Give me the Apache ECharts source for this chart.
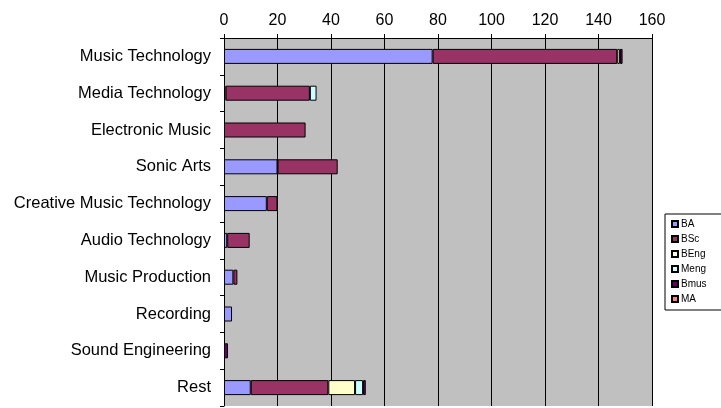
<!DOCTYPE html>
<html>
<head>
<meta charset="utf-8">
<script src="https://cdn.jsdelivr.net/npm/echarts@6/dist/echarts.min.js"></script>
<style>html,body{margin:0;padding:0;background:#fff;}#c{width:721px;height:408px;}</style>
</head>
<body>
<div id="c"></div>
<script>
const categories = ["Music Technology","Media Technology","Electronic Music","Sonic Arts","Creative Music Technology","Audio Technology","Music Production","Recording","Sound Engineering","Rest"];
const seriesNames = ["BA","BSc","BEng","Meng","Bmus","MA"];
const BA   = [78, 0.6, 0, 20, 16, 1.2, 3.5, 3, 0, 10];
const BSc  = [69, 31.5, 30.5, 22.5, 4, 8.4, 1.5, 0, 0, 29];
const BEng = [1, 0, 0, 0, 0, 0, 0, 0, 0, 10];
const Meng = [0, 2.5, 0, 0, 0, 0, 0, 0, 0, 3];
const Bmus = [1, 0, 0, 0, 0, 0, 0, 0, 1.5, 1];
const MA   = [0, 0, 0, 0, 0, 0, 0, 0, 0, 0];
const xTicks = [0, 20, 40, 60, 80, 100, 120, 140, 160];
const colors = ["#9999FF","#993366","#FFFFCC","#CCFFFF","#660066","#FF8080"];
const values = [BA, BSc, BEng, Meng, Bmus, MA];

const chart = echarts.init(document.getElementById('c'), null, {renderer:'canvas'});
const font = 'Liberation Sans, Arial, sans-serif';
chart.setOption({
  animation: false,
  grid: {left: 224, right: 69, top: 38, bottom: 2, show: true, backgroundColor: '#C0C0C0', borderWidth: 0},
  xAxis: {
    type: 'value', position: 'top', min: xTicks[0], max: xTicks[xTicks.length-1], interval: 20,
    axisLine: {show: true, lineStyle: {color: '#000', width: 1}},
    axisTick: {show: true, length: 4, lineStyle: {color: '#000'}},
    axisLabel: {color: '#000', fontFamily: font, fontSize: 16, margin: 9},
    splitLine: {show: true, lineStyle: {color: '#000', width: 1}}
  },
  yAxis: {
    type: 'category', data: categories, inverse: true,
    axisLine: {show: true, lineStyle: {color: '#000', width: 1}},
    axisTick: {show: true, length: 4, lineStyle: {color: '#000'}},
    axisLabel: {color: '#000', fontFamily: font, fontSize: 16.5, margin: 13}
  },
  legend: {
    orient: 'vertical', left: 665, top: 214,
    data: seriesNames,
    icon: 'rect', itemWidth: 6, itemHeight: 6, itemGap: 5,
    textStyle: {fontFamily: font, fontSize: 10, color: '#000', padding: [0,0,0,-2]},
    backgroundColor: '#fff', borderColor: '#000', borderWidth: 1,
    padding: [5, 20, 6, 6]
  },
  series: seriesNames.map((n, i) => ({
    name: n, type: 'bar', stack: 'total', barWidth: 15,
    data: values[i].map(v => v === 0 ? '-' : v),
    itemStyle: {color: colors[i], borderColor: '#000', borderWidth: 1}
  }))
});
</script>
</body>
</html>
